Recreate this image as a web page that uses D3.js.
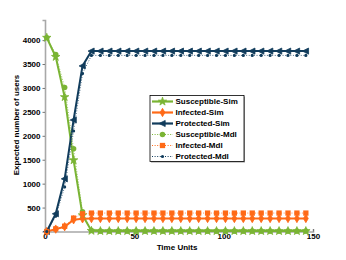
<!DOCTYPE html>
<html>
<head>
<meta charset="utf-8">
<script src="https://cdn.jsdelivr.net/npm/d3@7"></script>
<style>
  body { margin: 0; background: #fff; }
  text { font-family: "Liberation Sans", Arial, sans-serif; font-weight: bold; }
</style>
</head>
<body>
<svg id="chart" width="346" height="260"></svg>
<script>
// time steps (every 5 units)
const timeUnits = [1, 6, 11, 16, 21, 26, 31, 36, 41, 46, 51, 56, 61, 66, 71, 76, 81, 86, 91, 96, 101, 106, 111, 116, 121, 126, 131, 136, 141, 146]

const susceptibleSim = [4050, 3650, 2810, 1490, 340, 15, 10, 10, 10, 10, 10, 10, 10, 10, 10, 10, 10, 10, 10, 10, 10, 10, 10, 10, 10, 10, 10, 10, 10, 10]
const infectedSim = [0, 50, 100, 245, 265, 270, 272, 272, 272, 272, 272, 272, 272, 272, 272, 272, 272, 272, 272, 272, 272, 272, 272, 272, 272, 272, 272, 272, 272, 272]
const protectedSim = [0, 370, 1100, 2330, 3460, 3770, 3770, 3770, 3770, 3770, 3770, 3770, 3770, 3770, 3770, 3770, 3770, 3770, 3770, 3770, 3770, 3770, 3770, 3770, 3770, 3770, 3770, 3770, 3770, 3770]

const susceptibleMdl = [4050, 3700, 3010, 1730, 410, 20, 8, 8, 8, 8, 8, 8, 8, 8, 8, 8, 8, 8, 8, 8, 8, 8, 8, 8, 8, 8, 8, 8, 8, 8]
const infectedMdl = [0, 55, 110, 280, 370, 385, 385, 385, 385, 385, 385, 385, 385, 385, 385, 385, 385, 385, 385, 385, 385, 385, 385, 385, 385, 385, 385, 385, 385, 385]
const protectedMdl = [0, 320, 930, 2100, 3300, 3680, 3680, 3680, 3680, 3680, 3680, 3680, 3680, 3680, 3680, 3680, 3680, 3680, 3680, 3680, 3680, 3680, 3680, 3680, 3680, 3680, 3680, 3680, 3680, 3680]

const xTicks = [0, 50, 100, 150]
const yTicks = [500, 1000, 1500, 2000, 2500, 3000, 3500, 4000]

const green = '#7ab434', orange = '#ff6a17', navy = '#113c5c'

const series = [
  { name: 'Susceptible-Sim', values: susceptibleSim, color: green, sim: true, symbol: d3.symbolStar, size: 22 },
  { name: 'Infected-Sim', values: infectedSim, color: orange, sim: true, symbol: d3.symbolDiamond, size: 20 },
  { name: 'Protected-Sim', values: protectedSim, color: navy, sim: true, symbol: 'left', size: 30 },
  { name: 'Susceptible-Mdl', values: susceptibleMdl, color: green, sim: false, symbol: d3.symbolCircle, size: 24 },
  { name: 'Infected-Mdl', values: infectedMdl, color: orange, sim: false, symbol: d3.symbolSquare, size: 28 },
  { name: 'Protected-Mdl', values: protectedMdl, color: navy, sim: false, symbol: d3.symbolCircle, size: 8 }
]

const svg = d3.select('#chart')

const x = d3.scaleLinear().domain([0, 150]).range([45, 313])
const y = d3.scaleLinear().domain([0, 4420]).range([231.5, 20])

// axes (gray, left + bottom only)
const xAxis = svg.append('g').attr('transform', 'translate(0,231.5)')
  .call(d3.axisBottom(x).tickValues(xTicks).tickSize(-2.5).tickPadding(3).tickFormat(d3.format('d')))
const yAxis = svg.append('g').attr('transform', 'translate(45,0)')
  .call(d3.axisLeft(y).tickValues(yTicks).tickSize(2.5).tickPadding(2).tickFormat(d3.format('d')))

for (const ax of [xAxis, yAxis]) {
  ax.select('.domain').attr('stroke', '#a8a8a8').attr('stroke-width', 1.6)
  ax.selectAll('.tick line').attr('stroke', '#777')
  ax.selectAll('.tick text').attr('fill', '#000').style('font-size', '8px')
}
xAxis.selectAll('.tick text').attr('dy', '0.6em')

svg.append('text').attr('x', 177).attr('y', 250).attr('text-anchor', 'middle')
  .style('font-size', '8px').text('Time Units')
svg.append('text').attr('transform', 'translate(19,125) rotate(-90)').attr('text-anchor', 'middle')
  .style('font-size', '8px').text('Expected number of users')

function symbolPath(s) {
  if (s.symbol === 'left') {
    const r = Math.sqrt(s.size) * 0.62
    return `M${-r},0L${r * 0.8},${-r * 0.9}L${r * 0.8},${r * 0.9}Z`
  }
  return d3.symbol().type(s.symbol).size(s.size)()
}

const line = d3.line().x((d, i) => x(timeUnits[i])).y(d => y(d))

const plot = svg.append('g')
// simulated first, model on top
for (const s of series) {
  const g = plot.append('g')
  g.append('path').attr('d', line(s.values)).attr('fill', 'none')
    .attr('stroke', s.color)
    .attr('stroke-width', s.sim ? 2 : 1)
    .attr('stroke-dasharray', s.sim ? null : '1,1.6')
    .attr('opacity', s.sim ? 1 : 0.75)
  g.selectAll('path.mk').data(s.values).enter().append('path').attr('class', 'mk')
    .attr('d', symbolPath(s))
    .attr('transform', (d, i) => `translate(${x(timeUnits[i])},${y(d)})`)
    .attr('fill', s.color)
    .attr('stroke', s.color)
    .attr('stroke-width', s.sim ? 0.8 : 0)
}

// legend
const lg = svg.append('g')
lg.append('rect').attr('x', 151).attr('y', 96.5).attr('width', 94).attr('height', 66).attr('fill', '#999')
lg.append('rect').attr('x', 150).attr('y', 95.5).attr('width', 94).attr('height', 66)
  .attr('fill', '#fff').attr('stroke', '#000').attr('stroke-width', 0.8)

series.forEach((s, i) => {
  const yy = 101.5 + i * 11
  lg.append('line').attr('x1', 152).attr('x2', 173).attr('y1', yy).attr('y2', yy)
    .attr('stroke', s.color).attr('stroke-width', s.sim ? 2.2 : 1)
    .attr('stroke-dasharray', s.sim ? null : '1,1.6')
  lg.append('path').attr('d', symbolPath(s)).attr('transform', `translate(162.5,${yy})`)
    .attr('fill', s.color).attr('stroke', s.color).attr('stroke-width', s.sim ? 0.8 : 0)
  lg.append('text').attr('x', 175.5).attr('y', yy).attr('dy', '0.35em')
    .style('font-size', '8px').text(s.name)
})
</script>
</body>
</html>
